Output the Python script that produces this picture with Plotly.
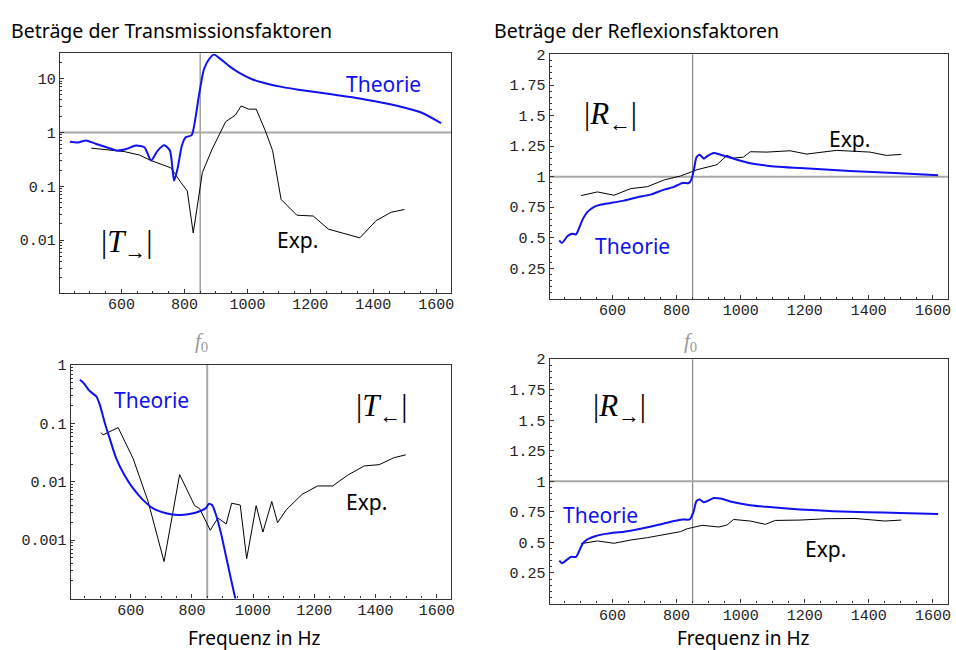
import plotly.graph_objects as go

# ---------------- data ----------------
F0 = 850  # resonance frequency f0 in Hz

# |T->| transmission, left-to-right
t_fwd_theory_f = [436, 462, 488, 520, 552, 588, 615, 646, 673, 694, 715, 736, 754, 767, 778, 792,
                  804, 823, 836, 846, 862, 878, 894, 909, 941, 973, 1015, 1057, 1109, 1162, 1267,
                  1373, 1478, 1552, 1615]
t_fwd_theory = [0.67, 0.65, 0.71, 0.61, 0.53, 0.46, 0.49, 0.57, 0.53, 0.30, 0.46, 0.58, 0.46, 0.127,
                0.21, 0.57, 0.81, 0.89, 2.0, 4.8, 14.9, 22.8, 27.8, 24.5, 17.2, 12.9, 9.7, 8.2, 7.0,
                6.2, 5.1, 4.1, 3.1, 2.34, 1.49]
t_fwd_exp_f = [504, 552, 609, 657, 694, 731, 757, 788, 809, 828, 857, 888, 931, 962, 980, 1004,
               1028, 1057, 1080, 1107, 1157, 1209, 1257, 1357, 1409, 1457, 1499]
t_fwd_exp = [0.51, 0.48, 0.44, 0.38, 0.30, 0.25, 0.22, 0.119, 0.082, 0.0135, 0.18, 0.49, 1.58, 2.1,
             3.1, 2.7, 2.7, 1.07, 0.46, 0.057, 0.029, 0.028, 0.016, 0.011, 0.023, 0.033, 0.037]

# |R<-| reflection
r_bwd_theory_f = [434, 442, 460, 473, 486, 496, 507, 522, 543, 564, 595, 636, 678, 719, 761, 792,
                  818, 838, 846, 854, 862, 872, 885, 895, 916, 937, 978, 1030, 1082, 1185, 1289,
                  1393, 1496, 1616]
r_bwd_theory = [0.478, 0.457, 0.514, 0.533, 0.527, 0.58, 0.65, 0.712, 0.753, 0.772, 0.785, 0.804,
                0.832, 0.853, 0.894, 0.916, 0.948, 0.948, 0.976, 1.057, 1.158, 1.18, 1.147, 1.166,
                1.193, 1.18, 1.147, 1.11, 1.09, 1.07, 1.054, 1.04, 1.027, 1.011]
r_bwd_exp_f = [502, 553, 605, 657, 709, 761, 812, 864, 926, 957, 978, 1009, 1030, 1082, 1154, 1206,
               1299, 1403, 1455, 1501]
r_bwd_exp = [0.845, 0.875, 0.848, 0.902, 0.918, 0.973, 1.005, 1.057, 1.098, 1.174, 1.152, 1.16,
             1.204, 1.201, 1.212, 1.185, 1.215, 1.201, 1.174, 1.182]

# |T<-| transmission, right-to-left
t_bwd_theory_f = [434, 445, 466, 488, 499, 515, 532, 553, 580, 608, 640, 673, 716, 754, 792, 830,
                  847, 855, 866, 879, 896, 917, 942, 955]
t_bwd_theory = [0.56, 0.50, 0.36, 0.29, 0.21, 0.104, 0.054, 0.025, 0.013, 0.0077, 0.0049, 0.0035,
                0.0029, 0.0027, 0.0028, 0.0032, 0.0036, 0.0042, 0.0040, 0.0027, 0.00125, 0.00039,
                0.0001, 0.000055]
t_bwd_exp_f = [502, 510, 559, 608, 657, 709, 760, 809, 825, 860, 885, 912, 930, 958, 979, 1010,
               1032, 1061, 1080, 1108, 1160, 1211, 1260, 1309, 1363, 1412, 1461, 1499]
t_bwd_exp = [0.070, 0.064, 0.085, 0.025, 0.0046, 0.00043, 0.0133, 0.0039, 0.0035, 0.00148, 0.0024,
             0.0019, 0.0043, 0.0040, 0.00048, 0.0039, 0.00138, 0.0046, 0.0020, 0.0033, 0.0061,
             0.0085, 0.0085, 0.0130, 0.0187, 0.0197, 0.026, 0.029]

# |R->| reflection
r_fwd_theory_f = [434, 442, 460, 470, 486, 496, 507, 522, 548, 584, 636, 688, 740, 792, 818, 841,
                  852, 862, 872, 885, 895, 916, 937, 978, 1030, 1082, 1185, 1289, 1393, 1496, 1616]
r_fwd_theory = [0.35, 0.33, 0.363, 0.382, 0.382, 0.43, 0.49, 0.526, 0.553, 0.572, 0.588, 0.612,
                0.642, 0.675, 0.688, 0.688, 0.743, 0.837, 0.851, 0.829, 0.837, 0.864, 0.859, 0.829,
                0.805, 0.791, 0.770, 0.756, 0.748, 0.740, 0.732]
r_fwd_exp_f = [502, 553, 605, 657, 709, 761, 812, 833, 880, 932, 957, 978, 1030, 1077, 1108, 1185,
               1269, 1357, 1450, 1501]
r_fwd_exp = [0.49, 0.512, 0.493, 0.52, 0.539, 0.566, 0.588, 0.612, 0.64, 0.626, 0.642, 0.688, 0.675,
             0.648, 0.680, 0.683, 0.694, 0.696, 0.675, 0.683]

x_ticks = [600, 800, 1000, 1200, 1400, 1600]
log_ticks_top = [0.01, 0.1, 1, 10]
log_labels_top = ["0.01", "0.1", "1", "10"]
log_ticks_bottom = [0.001, 0.01, 0.1, 1]
log_labels_bottom = ["0.001", "0.01", "0.1", "1"]
lin_ticks = [0.25, 0.5, 0.75, 1, 1.25, 1.5, 1.75, 2]
lin_labels = ["0.25", "0.5", "0.75", "1", "1.25", "1.5", "1.75", "2"]

# ---------------- figure ----------------
W, H = 956, 650
BLUE = "#1010f0"
GRAY = "#a8a8a8"
TICKFONT = dict(family="Liberation Mono, Courier New, monospace", size=15, color="#222")
TEXTFONT = "Noto Sans"
MATHFONT = "Liberation Serif"


def dom_x(a, b):
    return [a / W, b / W]


def dom_y(top, bottom):
    return [1 - bottom / H, 1 - top / H]


panels = {
    1: dict(x=(60, 453), y=(47, 289)),
    2: dict(x=(552, 952), y=(48, 295)),
    3: dict(x=(71, 453), y=(362, 598)),
    4: dict(x=(552, 952), y=(356, 603)),
}

fig = go.Figure()

series = [
    (1, t_fwd_theory_f, t_fwd_theory, t_fwd_exp_f, t_fwd_exp),
    (2, r_bwd_theory_f, r_bwd_theory, r_bwd_exp_f, r_bwd_exp),
    (3, t_bwd_theory_f, t_bwd_theory, t_bwd_exp_f, t_bwd_exp),
    (4, r_fwd_theory_f, r_fwd_theory, r_fwd_exp_f, r_fwd_exp),
]
for k, tf, tv, ef, ev in series:
    xa = "x" if k == 1 else f"x{k}"
    ya = "y" if k == 1 else f"y{k}"
    fig.add_trace(go.Scatter(x=ef, y=ev, mode="lines", line=dict(color="black", width=1),
                             xaxis=xa, yaxis=ya, showlegend=False, hoverinfo="skip"))
    fig.add_trace(go.Scatter(x=tf, y=tv, mode="lines", line=dict(color=BLUE, width=2, shape="spline",
                                                                  smoothing=0.6),
                             xaxis=xa, yaxis=ya, showlegend=False, hoverinfo="skip"))

x_minor = [v for v in range(450, 1650, 50) if v not in x_ticks]


def log_minor(lo, hi):
    out = []
    for e in range(lo, hi + 1):
        for m in range(2, 10):
            out.append(m * 10 ** e)
    return out


lin_minor = [round(0.05 * i, 2) for i in range(1, 40) if i % 5 != 0]

layout = dict(width=W, height=H, margin=dict(l=0, r=0, t=0, b=0),
              paper_bgcolor="white", plot_bgcolor="white", showlegend=False)

for k, p in panels.items():
    sx = "" if k == 1 else str(k)
    xa = dict(domain=dom_x(*p["x"]), range=[404, 1647], tickvals=x_ticks,
              ticktext=[str(v) for v in x_ticks], tickfont=TICKFONT, ticks="inside", ticklen=4,
              tickcolor="#333", showgrid=False, zeroline=False, showline=True, mirror=True,
              linecolor="#333", linewidth=1.2, anchor="y" + sx, ticklabelstandoff=-3,
              minor=dict(tickmode="array", tickvals=x_minor, ticks="inside", ticklen=2,
                         tickcolor="#333", showgrid=False))
    if k == 1:
        ya = dict(type="log", range=[-2.98, 1.465], tickvals=log_ticks_top, ticktext=log_labels_top,
                  minor=dict(tickmode="array", tickvals=log_minor(-3, 1), ticks="inside", ticklen=2,
                             tickcolor="#333", showgrid=False))
    elif k == 3:
        ya = dict(type="log", range=[-4, 0], tickvals=log_ticks_bottom, ticktext=log_labels_bottom,
                  minor=dict(tickmode="array", tickvals=log_minor(-4, -1), ticks="inside", ticklen=2,
                             tickcolor="#333", showgrid=False))
    else:
        ya = dict(range=[0, 2], tickvals=lin_ticks, ticktext=lin_labels,
                  minor=dict(tickmode="array", tickvals=lin_minor, ticks="inside", ticklen=2,
                             tickcolor="#333", showgrid=False))
    ya.update(domain=dom_y(*p["y"]), tickfont=TICKFONT, ticks="inside", ticklen=4, tickcolor="#333",
              showgrid=False, zeroline=False, showline=True, mirror=True, linecolor="#333",
              linewidth=1.2, anchor="x" + sx)
    layout["xaxis" + sx] = xa
    layout["yaxis" + sx] = ya

fig.update_layout(**layout)

# f0 marker lines and the |.| = 1 reference lines
for k in panels:
    sx = "" if k == 1 else str(k)
    fig.add_shape(type="line", xref="x" + sx, yref=f"y{sx} domain", x0=F0, x1=F0, y0=0, y1=1,
                  line=dict(color=GRAY if k == 3 else "#888", width=2 if k == 3 else 1.2), layer="below")
    if k != 3:
        fig.add_shape(type="line", xref=f"x{sx} domain", yref="y" + sx, x0=0, x1=1, y0=1, y1=1,
                      line=dict(color=GRAY, width=2), layer="below")


def label(text, px, py, color="black", size=21, family=TEXTFONT, xanchor="center"):
    fig.add_annotation(text=text, x=px / W, y=1 - py / H, xref="paper", yref="paper",
                       showarrow=False, xanchor=xanchor, yanchor="middle", borderpad=0,
                       font=dict(family=family, size=size, color=color))


label("Beträge der Transmissionsfaktoren", 10, 24, size=19.5, xanchor="left")
label("Beträge der Reflexionsfaktoren", 495, 24, size=19.5, xanchor="left")

label("Frequenz in Hz", 255, 638, size=19)
label("Frequenz in Hz", 746, 638, size=19)

label("Theorie", 385, 78, color=BLUE)
label("Exp.", 299, 236)
label("|<i>T</i><sub>→</sub>|", 127, 240, size=31, family=MATHFONT)

label("Exp.", 853, 133)
label("Theorie", 635, 242, color=BLUE)
label("|<i>R</i><sub>←</sub>|", 613, 110, size=31, family=MATHFONT)

label("Theorie", 152, 397, color=BLUE)
label("Exp.", 368, 500)
label("|<i>T</i><sub>←</sub>|", 383, 405, size=31, family=MATHFONT)

label("Theorie", 603, 514, color=BLUE)
label("Exp.", 829, 548)
label("|<i>R</i><sub>→</sub>|", 622, 405, size=31, family=MATHFONT)

label("<i>f</i><sub>0</sub>", 202, 339, color="#999", size=21, family=MATHFONT)
label("<i>f</i><sub>0</sub>", 693, 339, color="#999", size=21, family=MATHFONT)

fig.write_html("out.html")
